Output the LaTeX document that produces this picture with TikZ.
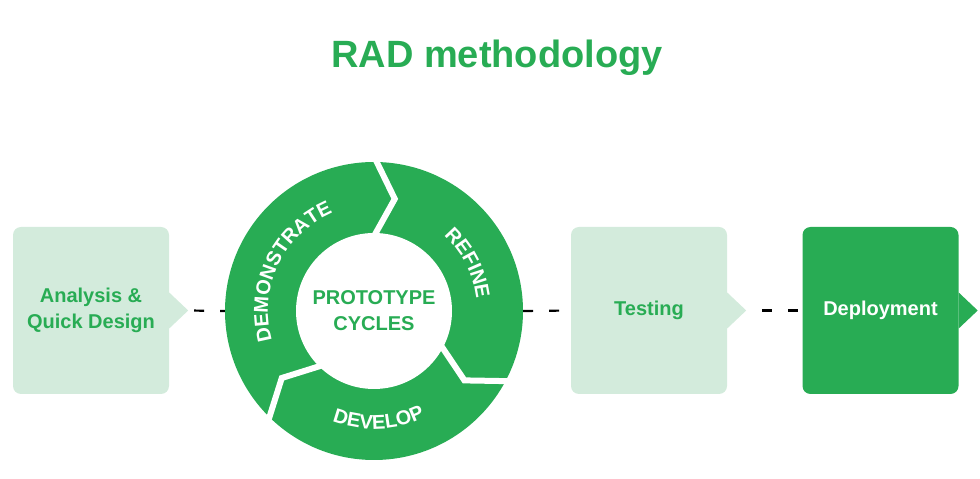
\documentclass[tikz,border=0pt]{standalone}
\usepackage{fontspec}
\setmainfont{Liberation Sans}
\usepackage{tikz}
\usetikzlibrary{decorations.text,calc}
\definecolor{verde}{HTML}{28AC54}
\definecolor{claro}{HTML}{D3EBDC}

\begin{document}
\begin{tikzpicture}[x=1pt,y=1pt,
  font=\bfseries\fontsize{20}{26}\selectfont,
  fase/.style={rectangle,rounded corners=8pt,minimum width=156pt,minimum height=167pt,inner sep=0pt,align=center},
  guion/.style={draw=black,line width=2.2pt,dash pattern=on 10pt off 16pt},
  corte/.style={draw=white,line width=6pt,line join=miter},
  rotulo/.style={decorate,decoration={text along path,text align=center,text color=white,
    text={|\bfseries\fontsize{20}{20}\selectfont|#1}}}]
\useasboundingbox (0,0) rectangle (980,479);
\node[text=verde,font=\bfseries\fontsize{38}{38}\selectfont,anchor=base] (titulo) at (497,411) {RAD methodology};
% fases
\node[fase,fill=claro,text=verde] (analisis) at (91,168.5) {Analysis \&\\Quick Design};
\node[fase,fill=claro,text=verde] (pruebas) at (649,168.5) {Testing};
\node[fase,fill=verde,text=white] (despliegue) at (880.5,168.5) {Deployment};
\foreach \n/\c in {analisis/claro,pruebas/claro,despliegue/verde}{
  \fill[\c] ([yshift=18pt]\n.east) -- ++(19,-18) -- ([yshift=-18pt]\n.east) -- cycle;
  \coordinate (\n-punta) at ([xshift=19pt]\n.east);
}
% ciclo de prototipos
\node[circle,fill=verde,minimum size=298pt,inner sep=0pt] (ciclo) at (374,168) {};
\node[circle,fill=white,minimum size=156pt,inner sep=0pt,text=verde,align=center] (nucleo) at (ciclo) {PROTOTYPE\\CYCLES};
\foreach \a in {89.5,-27.5,-134}
  \draw[corte] ($(ciclo)+(\a:152)$) -- ($(ciclo)+(\a-10:114)$) -- ($(ciclo)+(\a:76)$);
\path[rotulo=DEMONSTRATE] ($(ciclo)+(200:106)$) arc[start angle=200,end angle=109,radius=106];
\path[rotulo=REFINE] ($(ciclo)+(50:103)$) arc[start angle=50,end angle=4,radius=103];
\path[rotulo=DEVELOP] ($(ciclo)+(-125:118)$) arc[start angle=-125,end angle=-50,radius=118];
% enlaces
\draw[guion,dash phase=20pt] (analisis-punta) -- (ciclo.west);
\draw[guion] (ciclo.east) -- (pruebas.west);
\draw[guion,dash phase=10pt] (pruebas-punta) -- (despliegue.west);
\end{tikzpicture}
\end{document}
